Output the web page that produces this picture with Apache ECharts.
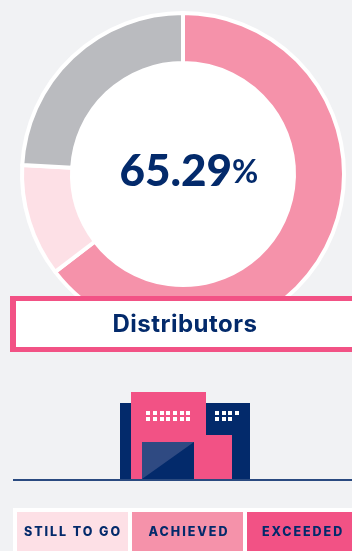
<!DOCTYPE html>
<html><head><meta charset="utf-8">
<style>html,body{margin:0;padding:0;background:#f1f2f4}#c{width:352px;height:551px}</style>
<script src="https://cdn.jsdelivr.net/npm/echarts@6/dist/echarts.min.js"></script>
</head><body><div id="c"></div>
<script>
const segmentNames = ['Achieved', 'Still to go', 'Remaining'];
const segmentValues = [64.6, 11.3, 24.1];
const segmentColors = ['#f592aa', '#fde0e6', '#babbbf'];
const centerValue = '65.29';
const centerUnit = '%';
const titleLabel = 'Distributors';
const legendLabels = ['STILL TO GO', 'ACHIEVED', 'EXCEEDED'];
const legendColors = ['#fde0e6', '#f592aa', '#f25285'];
const navy = '#032a6b', pink = '#f25285';
// the title and legend captions are letter-spaced in the reference
const nativeFill = CanvasRenderingContext2D.prototype.fillText;
CanvasRenderingContext2D.prototype.fillText = function (t, x, y, m) {
  this.letterSpacing = legendLabels.includes(t) ? '1.95px' : (t === titleLabel ? '0.5px' : '0px');
  return m === undefined ? nativeFill.call(this, t, x, y) : nativeFill.call(this, t, x, y, m);
};
const chart = echarts.init(document.getElementById('c'), null, {renderer: 'canvas'});
const rect = (x, y, w, h, fill, z) => ({type: 'rect', shape: {x, y, width: w, height: h}, style: {fill}, z: z || 10});
const txt = (text, x, y, size, family, weight, align, z) => ({type: 'text', x, y, z: z || 12, style: {text, fontSize: size, fontFamily: family, fontWeight: weight, fill: navy, align: align || 'center', verticalAlign: 'middle'}});
const g = [];
// title banner
g.push(rect(10, 296, 342, 56, pink));
g.push(rect(16, 301, 336, 46, '#fff', 11));
g.push(txt(titleLabel, 185, 325, 24, 'Inter', 700));
// centre value
g.push(txt(centerValue, 232, 172, 44, 'Lato', 900, 'right'));
g.push(txt(centerUnit, 232, 173, 32, 'Lato', 700, 'left'));
// ground + building
g.push(rect(13, 479, 339, 2, '#2a4a80'));
g.push(rect(120, 403, 130, 76, navy));
g.push(rect(131, 392, 75, 87, pink, 11));
g.push(rect(206, 435, 26, 44, pink, 11));
g.push(rect(142, 442, 52, 37, navy, 12));
g.push({type: 'polygon', shape: {points: [[142, 442], [194, 442], [142, 479]]}, style: {fill: '#2f4a82'}, z: 13});
[146, 153, 160, 166, 173, 180, 186].forEach(x => { g.push(rect(x, 411, 4, 4, '#fff', 13)); g.push(rect(x, 417, 4, 4, '#fff', 13)); });
[215, 222, 228, 235].forEach(x => g.push(rect(x, 411, 4, 4, '#fff', 13)));
[215, 222, 228].forEach(x => g.push(rect(x, 417, 4, 4, '#fff', 13)));
// legend
g.push(rect(13, 508, 339, 43, '#fff'));
const lx = [17, 132, 247], lw = [111, 111, 105], lc = [73, 189, 303];
legendLabels.forEach((t, i) => {
  g.push(rect(lx[i], 512, lw[i], 39, legendColors[i], 11));
  g.push(txt(t, lc[i], 532, 12.5, 'Inter', 800));
});
chart.setOption({
  animation: false,
  backgroundColor: '#f1f2f4',
  series: [{
    type: 'pie', silent: true, center: [183, 174], radius: [111, 161], startAngle: 90, clockwise: true,
    label: {show: false}, labelLine: {show: false},
    itemStyle: {borderColor: '#fff', borderWidth: 4},
    data: segmentNames.map((name, i) => ({name, value: segmentValues[i], itemStyle: {color: segmentColors[i]}}))
  }, {
    type: 'pie', silent: true, center: [183, 174], radius: [0, 112], label: {show: false}, labelLine: {show: false},
    data: [{value: 1, name: 'hole', itemStyle: {color: '#fff'}}]
  }],
  graphic: {elements: g}
});
</script></body></html>
